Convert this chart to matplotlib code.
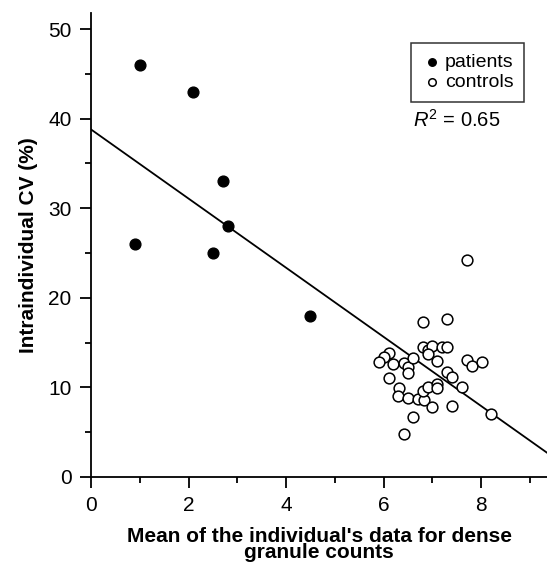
import matplotlib.pyplot as plt
import numpy as np

plt.rcParams['font.family'] = ['Liberation Sans', 'DejaVu Sans']
plt.rcParams['mathtext.fontset'] = 'custom'
plt.rcParams['mathtext.rm'] = 'Liberation Sans'
plt.rcParams['mathtext.it'] = 'Liberation Sans:italic'

# patients (filled)
pat_x = [1.0, 2.1, 2.7, 0.9, 2.8, 2.5, 4.5]
pat_y = [46, 43, 33, 26, 28, 25, 18]

# controls (open)
ctl_x = [7.70, 6.80, 7.30, 6.80, 6.90, 7.00, 6.90, 7.20, 7.30, 6.11, 6.01, 5.91,
         6.20, 6.41, 6.50, 6.61, 6.50, 7.10, 7.71, 7.81, 8.01, 6.11, 7.30, 7.40,
         7.60, 6.32, 6.30, 6.51, 6.71, 6.82, 6.80, 6.92, 7.10, 7.10, 7.00, 7.40,
         8.21, 6.61, 6.41]
ctl_y = [24.2, 17.3, 17.65, 14.56, 14.19, 14.67, 13.71, 14.56, 14.56, 13.82, 13.37, 12.81,
         12.59, 12.70, 12.33, 13.26, 11.58, 13.0, 13.07, 12.44, 12.81, 11.02, 11.69, 11.21,
         10.09, 9.91, 9.05, 8.79, 8.71, 8.6, 9.64, 10.02, 10.39, 9.91, 7.78, 7.93,
         7.04, 6.74, 4.80]

# regression line
intercept = 38.8
slope = -3.86
r2 = 0.65

fig = plt.figure(figsize=(5.47, 5.65), dpi=100)
ax = fig.add_axes([0.1664, 0.1558, 0.8336, 0.8212])

xmax = 9.35
xs = np.array([0, xmax])
ax.plot(xs, intercept + slope * xs, color='black', lw=1.3, zorder=1)

ax.scatter(pat_x, pat_y, s=60, color='black', zorder=3, label='patients')
ax.scatter(ctl_x, ctl_y, s=60, facecolors='white', edgecolors='black',
           linewidths=1.1, zorder=2, label='controls')

ax.set_xlim(0, xmax)
ax.set_ylim(0, 51.8)
ax.set_xticks([0, 2, 4, 6, 8])
ax.set_xticks([1, 3, 5, 7, 9], minor=True)
ax.set_yticks([0, 10, 20, 30, 40, 50])
ax.set_yticks([5, 15, 25, 35, 45], minor=True)

for side in ['top', 'right']:
    ax.spines[side].set_visible(False)
for side in ['left', 'bottom']:
    ax.spines[side].set_linewidth(1.3)
    ax.spines[side].set_clip_on(False)

ax.tick_params(which='major', direction='out', length=8, width=1.3,
               labelsize=15, pad=6)
ax.tick_params(which='minor', direction='out', length=4, width=1.3)

ax.set_ylabel('Intraindividual CV (%)', fontsize=15, fontweight='bold', labelpad=7)
ax.set_xlabel("Mean of the individual's data for dense\ngranule counts",
              fontsize=15, fontweight='bold', labelpad=8, linespacing=0.82)

leg = ax.legend(loc='upper right', bbox_to_anchor=(0.95, 0.935), fontsize=14,
                frameon=True, fancybox=False, edgecolor='black', markerscale=0.7,
                handletextpad=0.1, borderpad=0.55, labelspacing=0.1,
                handlelength=1.1, borderaxespad=0)
leg.get_frame().set_linewidth(1.1)

ax.text(0.803, 0.754, r'$R^2$ = %.2f' % r2, transform=ax.transAxes,
        fontsize=14.5, ha='center', va='baseline')

fig.savefig('out.png', dpi=100)
